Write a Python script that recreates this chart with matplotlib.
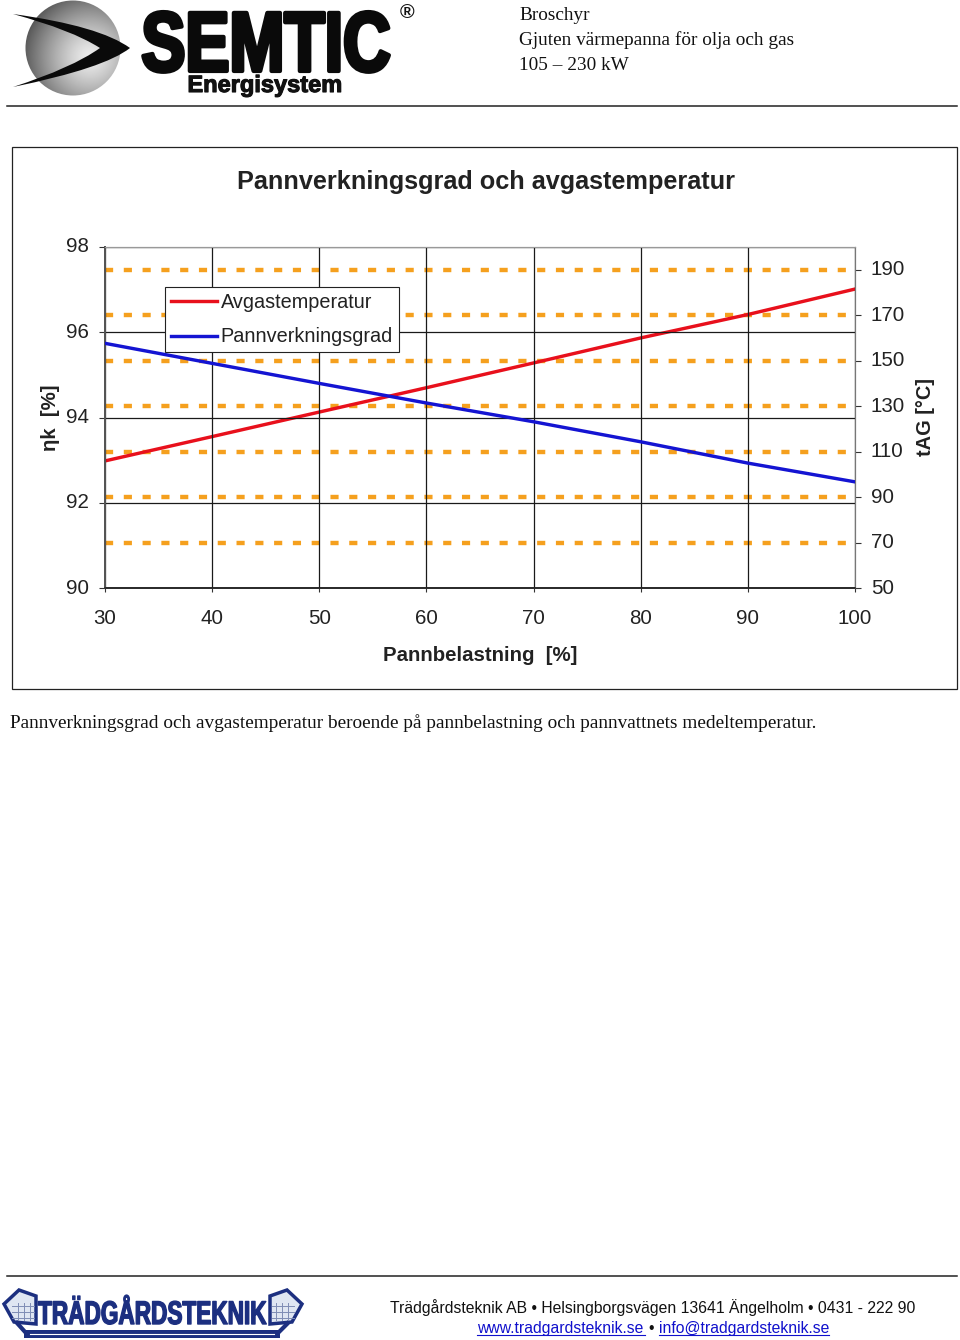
import numpy as np
import matplotlib
matplotlib.use('Agg')
import matplotlib.pyplot as plt
import matplotlib.patheffects as pe
from matplotlib.patches import Circle, PathPatch, Rectangle, Polygon
from matplotlib.path import Path
from matplotlib.transforms import Affine2D, ScaledTranslation

load = [30, 40, 50, 60, 70, 80, 90, 100]
avgas_temp = [105.9, 116.6, 127.4, 138.1, 149.0, 160.0, 170.3, 181.5]
efficiency = [95.74, 95.27, 94.80, 94.34, 93.90, 93.43, 92.93, 92.49]
left_ticks = [90, 92, 94, 96, 98]
right_ticks = [50, 70, 90, 110, 130, 150, 170, 190]
dash_levels = [70, 90, 110, 130, 150, 170, 190]

header_lines = ['Broschyr', 'Gjuten värmepanna för olja och gas', '105 – 230 kW']
caption = 'Pannverkningsgrad och avgastemperatur beroende på pannbelastning och pannvattnets medeltemperatur.'
footer = 'Trädgårdsteknik AB • Helsingborgsvägen 13641 Ängelholm • 0431 - 222 90'
links = ['www.tradgardsteknik.se', 'info@tradgardsteknik.se']

W, H = 960, 1340
TXT = '#222222'
NAVY = '#1c2f80'
SANS = 'Liberation Sans'
SERIF = 'Liberation Serif'

def px(v):
    return v * 0.72

# stretches a text upward from its baseline, the logos are tall and condensed
class TallText(pe.AbstractPathEffect):
    def __init__(self, base_y, factor, stroke=0.0, drop=0):
        super().__init__()
        self.base_y = base_y
        self.factor = factor
        self.stroke = stroke
        self.drop = drop

    def draw_path(self, renderer, gc, tpath, affine, rgbFace):
        y0 = H - self.base_y
        tall = affine + Affine2D().translate(0, -y0).scale(1, self.factor).translate(0, y0 - self.drop)
        gc0 = renderer.new_gc()
        gc0.copy_properties(gc)
        gc0.set_linewidth(self.stroke)
        gc0.set_foreground(rgbFace)
        renderer.draw_path(gc0, tpath, tall, rgbFace)
        gc0.restore()

fig = plt.figure(figsize=(W / 100, H / 100), dpi=100, facecolor='white')

# page layer, pixel coords
page = fig.add_axes([0, 0, 1, 1], zorder=0)
page.set_xlim(0, W)
page.set_ylim(H, 0)
page.axis('off')

# rules and chart frame
page.plot([7, 957], [105.5, 105.5], color='#222222', lw=1.1)
page.plot([7, 957], [1275.5, 1275.5], color='#222222', lw=1.1)
page.add_patch(Rectangle((12, 147), 944.5, 542, fc='white', ec='#222222', lw=0.9))

# SEMTIC logo
xx, yy = np.meshgrid(np.linspace(25, 121, 200), np.linspace(0, 96, 200))
shade = 0.93 - 0.62 * (np.hypot(xx - 90, yy - 57) / 70) ** 1.3
im = page.imshow(shade, extent=(25, 121, 96, 0), cmap='gray', vmin=0, vmax=1, aspect='auto', zorder=1)
im.set_clip_path(Circle((73, 48), 47.5, transform=page.transData))
page.set_xlim(0, W)
page.set_ylim(H, 0)

swoosh = Path(
    [(13, 14), (100, 26), (130, 48), (105, 68), (13, 87), (72, 68), (100, 48), (72, 30), (13, 14)],
    [Path.MOVETO, Path.CURVE3, Path.CURVE3, Path.CURVE3, Path.CURVE3, Path.CURVE3, Path.CURVE3, Path.CURVE3, Path.CURVE3],
)
page.add_patch(PathPatch(swoosh, fc='#0a0a0a', ec='none', zorder=2))

page.text(266, 57, 'SEMTIC', family=SANS, weight='bold', fontsize=px(66), color='#0a0a0a',
          ha='center', va='baseline', path_effects=[TallText(57, 1.28, stroke=3.0, drop=14)])
page.text(265, 92, 'Energisystem', family=SANS, weight='bold', fontsize=px(23.6), color='#111111',
          ha='center', va='baseline', path_effects=[pe.withStroke(linewidth=0.8, foreground='#111111')])
page.text(407, 12, '®', family=SANS, weight='bold', fontsize=px(20), color='#111111', ha='center', va='center')

# header text
for y, line in zip([15, 40, 65], header_lines):
    page.text(519, y, line, family=SERIF, fontsize=px(19.3), color='#111111', ha='left', va='center')

page.text(10, 723, caption, family=SERIF, fontsize=px(19.25), color='#111111', ha='left', va='center')

# Tradgardsteknik logo
for x0, sgn in [(36, -1), (270, 1)]:
    roof = Polygon([(x0, 1296), (x0 + sgn * 17, 1290), (x0 + sgn * 32, 1304), (x0 + sgn * 22, 1322), (x0, 1324)],
                   closed=True, fc='#dfe6f2', ec=NAVY, lw=2.5, zorder=2)
    page.add_patch(roof)
    for gx in [6, 12, 18]:
        page.plot([x0 + sgn * gx] * 2, [1303, 1320], color='#7f8db5', lw=0.7, zorder=3)
    for gy in [1306, 1312, 1318]:
        page.plot([x0 + sgn * 2, x0 + sgn * 24], [gy, gy], color='#7f8db5', lw=0.7, zorder=3)
page.add_patch(Rectangle((24, 1330), 256, 8, fc=NAVY, ec='none', zorder=2))
page.plot([30, 274], [1333.5, 1333.5], color='white', lw=0.8, zorder=3)
page.plot([17, 26], [1323, 1333], color=NAVY, lw=3, zorder=2)
page.plot([288, 278], [1323, 1333], color=NAVY, lw=3, zorder=2)
page.text(152.5, 1324, 'TRÄDGÅRDSTEKNIK', family=SANS, weight='bold', fontsize=px(22.6), color=NAVY,
          ha='center', va='baseline', path_effects=[TallText(1324, 1.45, stroke=1.0)], zorder=4)

# footer text
page.text(653, 1308, footer, family=SANS, fontsize=px(15.75), color='#111111', ha='center', va='center')
page.text(477, 1328, links[0], family=SANS, fontsize=px(15.75), color='#1010cc', ha='left', va='center')
page.text(651, 1328, '•', family=SANS, fontsize=px(15.75), color='#111111', ha='center', va='center')
page.text(659, 1328, links[1], family=SANS, fontsize=px(15.75), color='#1010cc', ha='left', va='center')
page.plot([477, 645], [1335, 1335], color='#1010cc', lw=0.8)
page.plot([659, 829], [1335, 1335], color='#1010cc', lw=0.8)

page.text(486, 182, 'Pannverkningsgrad och avgastemperatur', family=SANS, weight='bold',
          fontsize=px(25.3), color=TXT, ha='center', va='center', zorder=5)

# chart
box = [105 / W, 1 - 588 / H, 750 / W, 341 / H]
ax2 = fig.add_axes(box, zorder=1)
ax = ax2.twinx()
ax.set_zorder(2)
ax.patch.set_visible(False)
ax.xaxis.set_visible(True)
ax2.xaxis.set_visible(False)

# ax2 holds the temperature scale (right), ax holds efficiency (left)
ax2.set_xlim(30, 100)
ax2.set_ylim(50, 200)
ax.set_ylim(90, 98)
ax2.yaxis.tick_right()
ax2.yaxis.set_label_position('right')
ax.yaxis.tick_left()
ax.yaxis.set_label_position('left')
ax.xaxis.tick_bottom()
ax.xaxis.set_label_position('bottom')

for level in dash_levels:
    ax2.axhline(level, color='#f5a01e', lw=px(4.4), dashes=(1.85, 2.42), dash_capstyle='butt', zorder=1)

red, = ax2.plot(load, avgas_temp, color='#e8101c', lw=px(3.4), zorder=3, label='Avgastemperatur')
blue, = ax.plot(load, efficiency, color='#1414d2', lw=px(3.4), zorder=3, label='Pannverkningsgrad')

ax.set_xticks(load)
ax.set_yticks(left_ticks)
ax2.set_yticks(right_ticks)
ax.grid(True, color='#1a1a1a', lw=0.9, zorder=2)
ax.set_axisbelow(True)
ax.tick_params(axis='x', labelsize=px(20.5), labelcolor=TXT, color='#333333', length=3, width=0.8, pad=12)
ax.tick_params(axis='y', labelsize=px(20.5), labelcolor=TXT, color='#333333', length=4.5, width=0.8, pad=7)
ax2.tick_params(axis='y', labelsize=px(20.5), labelcolor=TXT, color='#333333', length=4.5, width=0.8, pad=7)

# tick labels sit a touch above their ticks in the original
lift = ScaledTranslation(0, 2 / 100, fig.dpi_scale_trans)
for a in (ax, ax2):
    for label in a.get_xticklabels() + a.get_yticklabels():
        label.set_family(SANS)
    for label in a.get_yticklabels():
        label.set_transform(label.get_transform() + lift)
    a.spines['top'].set_color('#999999')
    a.spines['right'].set_color('#777777')
    a.spines['left'].set_color('#555555')
    a.spines['left'].set_linewidth(1.4)
    a.spines['bottom'].set_color('#222222')
    a.spines['bottom'].set_linewidth(1.1)

ax.set_xlabel('Pannbelastning  [%]', family=SANS, weight='bold', fontsize=px(20.4), color=TXT, labelpad=13)
ax.set_ylabel('ηk  [%]', family=SANS, weight='bold', fontsize=px(20.4), color=TXT, labelpad=4)
ax2.set_ylabel('tAG [°C]', family=SANS, weight='bold', fontsize=px(20), color=TXT, labelpad=8)

leg = ax.legend(handles=[red, blue], loc='upper left', bbox_to_anchor=(60 / 750, (341 - 40) / 341),
                borderaxespad=0, fancybox=False, framealpha=1, edgecolor='#222222', facecolor='white',
                prop={'family': SANS, 'size': px(19.9)}, labelcolor=TXT, handlelength=2.3,
                handletextpad=0.2, labelspacing=0.78, borderpad=0.3)
leg.get_frame().set_linewidth(0.8)

fig.savefig('out.png', dpi=100)
